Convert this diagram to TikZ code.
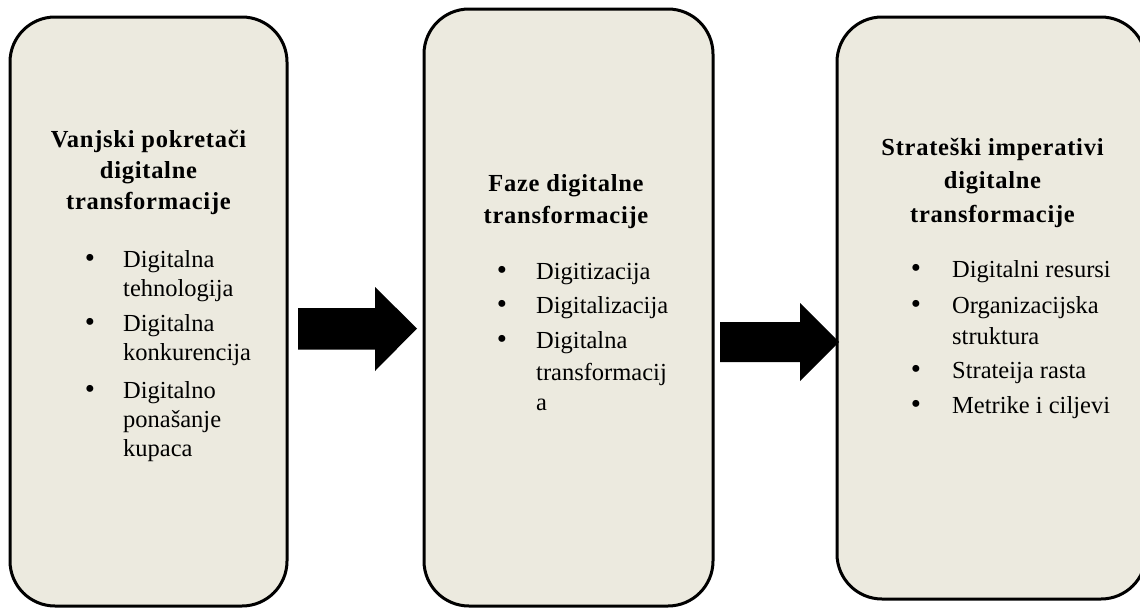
\documentclass[tikz,border=0pt]{standalone}
\usepackage{fontspec}
\setmainfont{Liberation Serif}
\newfontfamily\titlefont[LetterSpace=3]{Liberation Serif}
\usetikzlibrary{positioning}

\definecolor{boxfill}{RGB}{236,234,223}

\tikzset{
  phasebox/.style={draw=black, line width=3pt, fill=boxfill, rounded corners=45pt, inner sep=0pt},
  titletext/.style={font=\titlefont\bfseries\fontsize{24.5}{30}\selectfont, anchor=base, inner sep=0pt},
  itemtext/.style={font=\fontsize{24.5}{29}\selectfont, anchor=base west, inner sep=0pt},
  bulletdot/.style={font=\fontsize{29}{29}\selectfont, anchor=base, inner sep=0pt}
}

\begin{document}
\begin{tikzpicture}[x=1pt, y=-1pt]
\useasboundingbox (0,0) rectangle (1140,608);

% the three boxes
\node[phasebox, minimum width=277pt, minimum height=589pt] (box1) at (148.5,311.5) {};
\node[phasebox, minimum width=289pt, minimum height=597pt] (box2) at (568.5,307.5) {};
\node[phasebox, minimum width=309pt, minimum height=582pt] (box3) at (991.5,308) {};

% block arrows
\coordinate (arr1) at (298,328.5);
\coordinate (arr2) at (720,342);
\fill[black] (arr1) ++(0,-20.5) -- ++(77,0) -- ++(0,-21) -- (417,328.5)
  -- (375,371) -- ++(0,-21.5) -- ++(-77,0) -- cycle;
\fill[black] (arr2) ++(0,-20) -- ++(80,0) -- ++(0,-19) -- (839,342)
  -- (800,381) -- ++(0,-19) -- ++(-80,0) -- cycle;

% box 1
\node[titletext] (t1a) at (148.5,147) {Vanjski pokretači};
\node[titletext] (t1b) at (148.5,178) {digitalne};
\node[titletext] (t1c) at (148.5,209) {transformacije};

\node[bulletdot] (d1a) at (90,267) {•};
\node[itemtext] (i1a) at (123,267) {Digitalna};
\node[itemtext] (i1b) at (123,296) {tehnologija};
\node[bulletdot] (d1b) at (90,331) {•};
\node[itemtext] (i1c) at (123,331) {Digitalna};
\node[itemtext] (i1d) at (123,360) {konkurencija};
\node[bulletdot] (d1c) at (90,398) {•};
\node[itemtext] (i1e) at (123,398) {Digitalno};
\node[itemtext] (i1f) at (123,427) {ponašanje};
\node[itemtext] (i1g) at (123,456) {kupaca};

% box 2
\node[titletext] (t2a) at (566,191) {Faze digitalne};
\node[titletext] (t2b) at (566,223) {transformacije};

\node[bulletdot] (d2a) at (502,279) {•};
\node[itemtext] (i2a) at (536,279) {Digitizacija};
\node[bulletdot] (d2b) at (502,313) {•};
\node[itemtext] (i2b) at (536,313) {Digitalizacija};
\node[bulletdot] (d2c) at (502,348) {•};
\node[itemtext] (i2c) at (536,348) {Digitalna};
\node[itemtext] (i2d) at (536,380) {transformacij};
\node[itemtext] (i2e) at (536,410) {a};

% box 3
\node[titletext] (t3a) at (992.5,155) {Strateški imperativi};
\node[titletext] (t3b) at (992.5,188) {digitalne};
\node[titletext] (t3c) at (992.5,222) {transformacije};

\node[bulletdot] (d3a) at (916,277) {•};
\node[itemtext] (i3a) at (952,277) {Digitalni resursi};
\node[bulletdot] (d3b) at (916,313) {•};
\node[itemtext] (i3b) at (952,313) {Organizacijska};
\node[itemtext] (i3c) at (952,344) {struktura};
\node[bulletdot] (d3c) at (916,378) {•};
\node[itemtext] (i3d) at (952,378) {Strateija rasta};
\node[bulletdot] (d3d) at (916,413) {•};
\node[itemtext] (i3e) at (952,413) {Metrike i ciljevi};

\end{tikzpicture}
\end{document}
